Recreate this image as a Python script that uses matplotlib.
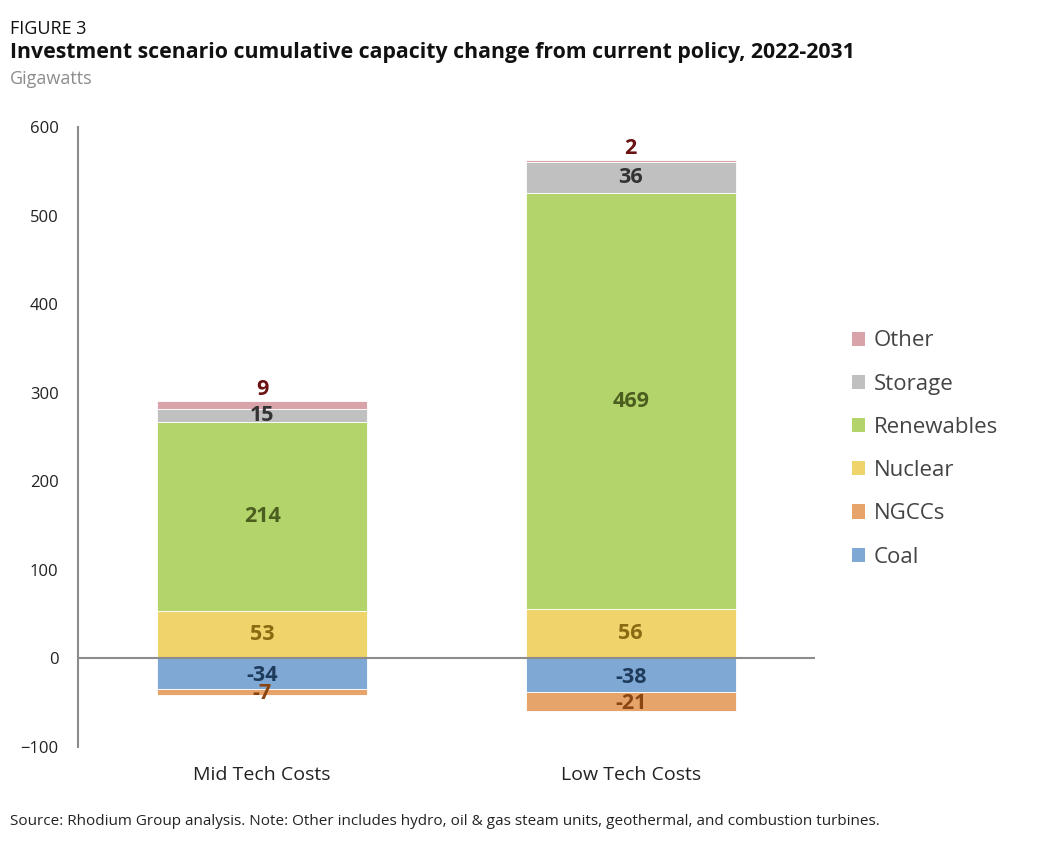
import matplotlib.pyplot as plt
from matplotlib.patches import Patch

# data (GW)
scenarios = ['Mid Tech Costs', 'Low Tech Costs']
coal = [-34, -38]
ngcc = [-7, -21]
nuclear = [53, 56]
renewables = [214, 469]
storage = [15, 36]
other = [9, 2]

colors = {
    'Coal': '#7fa8d4',
    'NGCCs': '#e6a36a',
    'Nuclear': '#efd36b',
    'Renewables': '#b3d36b',
    'Storage': '#c0c0c0',
    'Other': '#d9a3aa',
}
label_colors = {
    'Coal': '#1f3b5c',
    'NGCCs': '#8a4512',
    'Nuclear': '#8a6a12',
    'Renewables': '#4b5e1f',
    'Storage': '#333333',
    'Other': '#6b1212',
}

plt.rcParams['font.family'] = ['Open Sans', 'DejaVu Sans']

fig = plt.figure(figsize=(10.62, 8.48), dpi=100)
ax = fig.add_axes([0.0734, 0.1191, 0.694, 0.7311])

x = range(len(scenarios))
width = 0.57

# negative stack
neg_series = [('Coal', coal), ('NGCCs', ngcc)]
pos_series = [('Nuclear', nuclear), ('Renewables', renewables),
              ('Storage', storage), ('Other', other)]

for i in x:
    base = 0
    for name, vals in neg_series:
        v = vals[i]
        ax.bar(i, v, width, bottom=base, color=colors[name],
               edgecolor='white', linewidth=0.6)
        ax.text(i, base + v / 2 - 2, str(v), ha='center', va='center',
                fontsize=15.5, fontweight='bold', color=label_colors[name])
        base += v
    base = 0
    for name, vals in pos_series:
        v = vals[i]
        ax.bar(i, v, width, bottom=base, color=colors[name],
               edgecolor='white', linewidth=0.6)
        if name == 'Other':
            ax.text(i, base + v + 1, str(v), ha='center', va='bottom',
                    fontsize=15.5, fontweight='bold', color=label_colors[name])
        else:
            ax.text(i, base + v / 2, str(v), ha='center', va='center',
                    fontsize=15.5, fontweight='bold', color=label_colors[name])
        base += v

ax.axhline(0, color='#8c8c8c', linewidth=1.5, zorder=3)
ax.set_xlim(-0.5, 1.5)
ax.set_ylim(-100, 600)
ax.set_yticks(range(-100, 601, 100))
ax.set_xticks(list(x))
ax.set_xticklabels(scenarios)

for s in ['top', 'right', 'bottom']:
    ax.spines[s].set_visible(False)
ax.spines['left'].set_color('#8c8c8c')
ax.spines['left'].set_linewidth(1.5)
ax.tick_params(axis='y', length=0, pad=14, labelsize=12, labelcolor='#222222')
ax.tick_params(axis='x', length=0, pad=14, labelsize=14, labelcolor='#222222')

names = ['Other', 'Storage', 'Renewables', 'Nuclear', 'NGCCs', 'Coal']
handles = [Patch(facecolor=colors[n], edgecolor='none') for n in names]
fig.legend(handles, names,
           loc='center left', bbox_to_anchor=(0.783, 0.4705), frameon=False,
           fontsize=16, handlelength=0.6, handleheight=0.6, handletextpad=0.4,
           labelspacing=1.0, labelcolor='#444444')

fig.text(0.0094, 0.977, 'FIGURE 3', fontsize=13, color='#111111', va='top')
fig.text(0.0094, 0.95, 'Investment scenario cumulative capacity change from current policy, 2022-2031',
         fontsize=15.3, fontweight='bold', color='#111111', va='top')
fig.text(0.0094, 0.917, 'Gigawatts', fontsize=13, color='#8c8c8c', va='top')
fig.text(0.0094, 0.031, 'Source: Rhodium Group analysis. Note: Other includes hydro, oil & gas steam units, geothermal, and combustion turbines.',
         fontsize=11, color='#222222', va='center')

fig.savefig('out.png', dpi=100)
